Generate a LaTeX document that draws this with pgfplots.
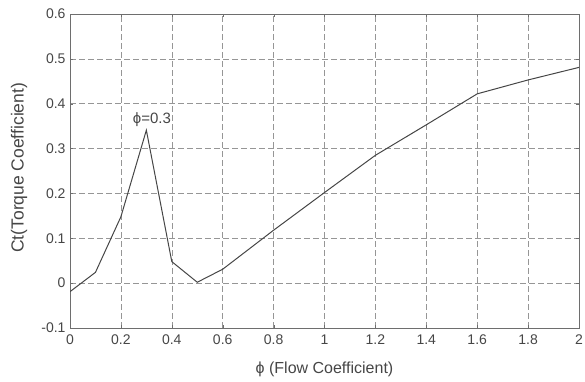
\documentclass[border=0pt]{standalone}
\usepackage{pgfplots}
\pgfplotsset{compat=1.18}
\usepackage{fontspec}
\setmainfont{Liberation Sans}
\definecolor{txt}{RGB}{70,70,70}
\definecolor{axc}{RGB}{110,110,110}
\definecolor{grd}{RGB}{150,150,150}
\definecolor{ln}{RGB}{70,70,70}
\begin{document}
\begin{tikzpicture}
\useasboundingbox (-70bp,-54bp) rectangle (515bp,328bp);
\begin{axis}[
  at={(0,0)}, anchor=south west,
  scale only axis, width=509bp, height=314bp,
  xmin=0, xmax=2, ymin=-0.1, ymax=0.6,
  xtick={0,0.2,...,2.01}, ytick={-0.1,0,...,0.61},
  xticklabels={0,0.2,0.4,0.6,0.8,1,1.2,1.4,1.6,1.8,2},
  yticklabels={-0.1,0,0.1,0.2,0.3,0.4,0.5,0.6},
  grid=major,
  major grid style={grd, line width=0.6bp, dash pattern=on 6bp off 3bp},
  axis line style={axc, line width=0.9bp},
  tick style={axc}, tick align=inside, major tick length=3bp,
  tick label style={font=\fontsize{14bp}{16bp}\selectfont, text=txt},
  xticklabel style={yshift=-3bp},
  yticklabel style={xshift=-1bp},
  xlabel={ϕ (Flow Coefficient)},
  ylabel={Ct(Torque Coefficient)},
  xlabel style={font=\fontsize{16bp}{18bp}\selectfont, text=txt,
    at={(axis description cs:0.5,-0.1306)}, anchor=center},
  ylabel style={font=\fontsize{17.5bp}{19bp}\selectfont, text=txt,
    at={(axis description cs:-0.1002,0.51)}, anchor=center, rotate=0},
]
\addplot[ln, line width=1bp] coordinates {
 (0,-0.019) (0.1,0.024) (0.2,0.148) (0.3,0.341) (0.4,0.048) (0.5,0.002)
 (0.6,0.031) (0.8,0.118) (1.0,0.202) (1.2,0.285) (1.4,0.353) (1.6,0.422)
 (1.8,0.453) (2.0,0.481)
};
\node[text=txt, font=\fontsize{15bp}{17bp}\selectfont] at (axis cs:0.322,0.364) {ϕ=0.3};
\end{axis}
\end{tikzpicture}
\end{document}
